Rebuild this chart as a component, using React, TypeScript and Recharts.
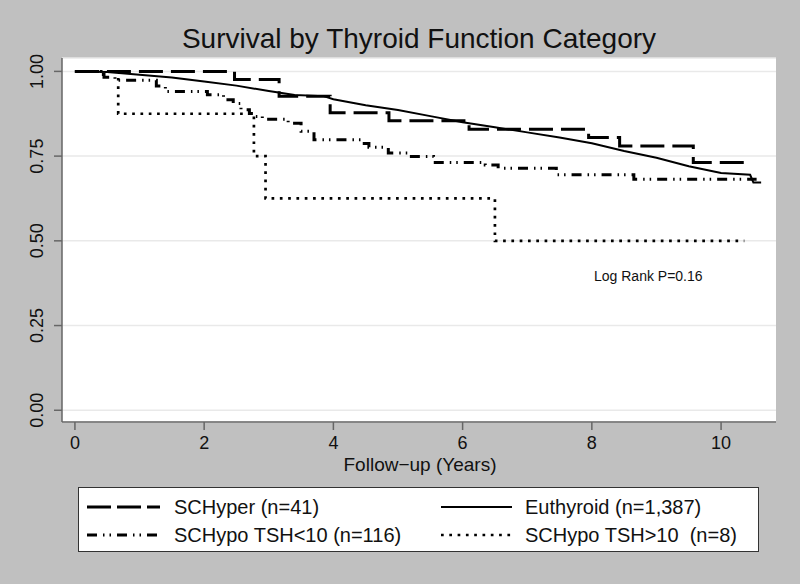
import React from 'react';
import { LineChart, Line, XAxis, YAxis, CartesianGrid, Legend } from 'recharts';

// ---------- data ----------
const xTicks = [0, 2, 4, 6, 8, 10];
const yTicks = [0, 0.25, 0.5, 0.75, 1];

const schyperTime = [0, 2.47, 3.16, 3.95, 4.86, 6.1, 7.95, 8.43, 9.57, 10.36];
const schyperSurv = [1.0, 0.976, 0.927, 0.878, 0.854, 0.829, 0.805, 0.78, 0.731, 0.731];

const euthTime = [0, 0.5, 1.0, 1.5, 2.0, 2.5, 3.0, 3.4, 3.85, 4.0, 4.5, 5.0, 5.5, 6.0, 6.5, 7.0, 7.5, 8.0, 8.5, 9.0, 9.5, 10.0, 10.45, 10.5, 10.62];
const euthSurv = [1.0, 0.998, 0.99, 0.982, 0.97, 0.958, 0.942, 0.93, 0.927, 0.918, 0.9, 0.886, 0.868, 0.85, 0.835, 0.82, 0.805, 0.788, 0.765, 0.745, 0.72, 0.7, 0.695, 0.672, 0.672];

const hypoLowTime = [0, 0.35, 0.45, 0.62, 1.26, 1.4, 2.05, 2.3, 2.45, 2.57, 2.7, 2.8, 2.9, 3.3, 3.5, 3.7, 4.45, 4.55, 4.85, 5.15, 5.55, 6.35, 6.55, 7.45, 8.65, 10.55];
const hypoLowSurv = [1.0, 0.991, 0.983, 0.974, 0.957, 0.941, 0.931, 0.916, 0.905, 0.887, 0.876, 0.867, 0.859, 0.847, 0.823, 0.798, 0.787, 0.776, 0.759, 0.749, 0.731, 0.724, 0.714, 0.695, 0.682, 0.682];

const hypoHighTime = [0, 0.67, 2.77, 2.95, 6.5, 10.36];
const hypoHighSurv = [1.0, 0.875, 0.75, 0.625, 0.5, 0.5];

const seriesNames = [
  'SCHyper (n=41)',
  'Euthyroid (n=1,387)',
  'SCHypo TSH<10 (n=116)',
  'SCHypo TSH>10  (n=8)',
];

const titleText = 'Survival by Thyroid Function Category';
const xAxisTitle = 'Follow\u2212up (Years)';
const noteText = 'Log Rank P=0.16';

const toRows = (t: number[], v: number[]) => t.map((x, i) => ({ t: x, s: v[i] }));

const FONT = '"Liberation Sans", Arial, Helvetica, sans-serif';

const styles = [
  { dash: '24 8', width: 3, legendDash: '24 6' },
  { dash: undefined, width: 2, legendDash: undefined },
  { dash: '10 6 1.5 5 1.5 6', width: 3, legendDash: '10 6 1.5 5 1.5 6' },
  { dash: '2.7 5.6', width: 2.7, legendDash: '2.7 5.6' },
];

const series = [
  { name: seriesNames[0], data: toRows(schyperTime, schyperSurv), type: 'stepAfter' },
  { name: seriesNames[1], data: toRows(euthTime, euthSurv), type: 'linear' },
  { name: seriesNames[2], data: toRows(hypoLowTime, hypoLowSurv), type: 'stepAfter' },
  { name: seriesNames[3], data: toRows(hypoHighTime, hypoHighSurv), type: 'stepAfter' },
];

const YTick = (props: any) => {
  const { x, y, payload } = props;
  const cx = x - 15;
  return (
    <text
      x={cx}
      y={y}
      transform={`rotate(-90, ${cx}, ${y})`}
      textAnchor="middle"
      dominantBaseline="central"
      fontFamily={FONT}
      fontSize={18}
      fill="#111"
    >
      {Number(payload.value).toFixed(2)}
    </text>
  );
};

const LegendBox = () => {
  const W = 681;
  const H = 65;
  const rows = [20, 48];
  const cols = [{ x1: 9, x2: 82, tx: 96 }, { x1: 363, x2: 434, tx: 447 }];
  return (
    <div style={{ width: W, height: H, boxSizing: 'border-box', position: 'relative' }}>
      <svg width={W} height={H} style={{ position: 'absolute', left: 0, top: 0 }}>
        <rect x={0.5} y={0.5} width={W - 1} height={H - 1} fill="#fff" stroke="#333" strokeWidth={1} />
        {series.map((s, i) => {
          const r = rows[Math.floor(i / 2)];
          const c = cols[i % 2];
          return (
            <g key={s.name}>
              <line x1={c.x1} x2={c.x2} y1={r} y2={r} stroke="#000" strokeWidth={styles[i].width} strokeDasharray={styles[i].legendDash} />
              <text x={c.tx} y={r} dominantBaseline="central" fontFamily={FONT} fontSize={20} fill="#111" style={{ whiteSpace: 'pre' }} xmlSpace="preserve">
                {s.name}
              </text>
            </g>
          );
        })}
      </svg>
    </div>
  );
};

export default function App() {
  return (
    <div style={{ position: 'absolute', left: 0, top: 0, width: 800, height: 584, background: '#c0c0c0', overflow: 'hidden' }}>
      <LineChart width={800} height={584} margin={{ top: 58, right: 24, left: 0, bottom: 57 }}>
        <CartesianGrid horizontal vertical={false} fill="#ffffff" fillOpacity={1} stroke="#e9e9e9" strokeWidth={1.5} />
        <XAxis
          type="number"
          dataKey="t"
          domain={[-0.2, 10.85]}
          ticks={xTicks}
          allowDataOverflow
          height={40}
          tickSize={8}
          tickMargin={6}
          stroke="#666"
          strokeWidth={1.5}
          tick={{ fill: '#111', fontSize: 18, fontFamily: FONT }}
          tickLine={{ stroke: '#666', strokeWidth: 1.5 }}
        />
        <YAxis
          type="number"
          domain={[-0.0346, 1.0395]}
          ticks={yTicks}
          allowDataOverflow
          width={62}
          tickSize={8}
          stroke="#666"
          strokeWidth={1.5}
          tick={<YTick />}
          tickLine={{ stroke: '#666', strokeWidth: 1.5 }}
        />
        {series.map((s, i) => (
          <Line
            key={s.name}
            data={s.data}
            dataKey="s"
            name={s.name}
            type={s.type as any}
            stroke="#000"
            strokeWidth={styles[i].width}
            strokeDasharray={styles[i].dash}
            dot={false}
            activeDot={false}
            isAnimationActive={false}
          />
        ))}
        <Legend
          verticalAlign="bottom"
          content={<LegendBox />}
          wrapperStyle={{ left: 78, top: 487, width: 681, height: 65, bottom: 'auto' }}
        />
        <text x={419} y={48} textAnchor="middle" fontFamily={FONT} fontSize={28} fill="#111">{titleText}</text>
        <text x={420} y={471} textAnchor="middle" fontFamily={FONT} fontSize={19} fill="#111">{xAxisTitle}</text>
        <text x={594} y={281} fontFamily={FONT} fontSize={14} fill="#111">{noteText}</text>
      </LineChart>
    </div>
  );
}
